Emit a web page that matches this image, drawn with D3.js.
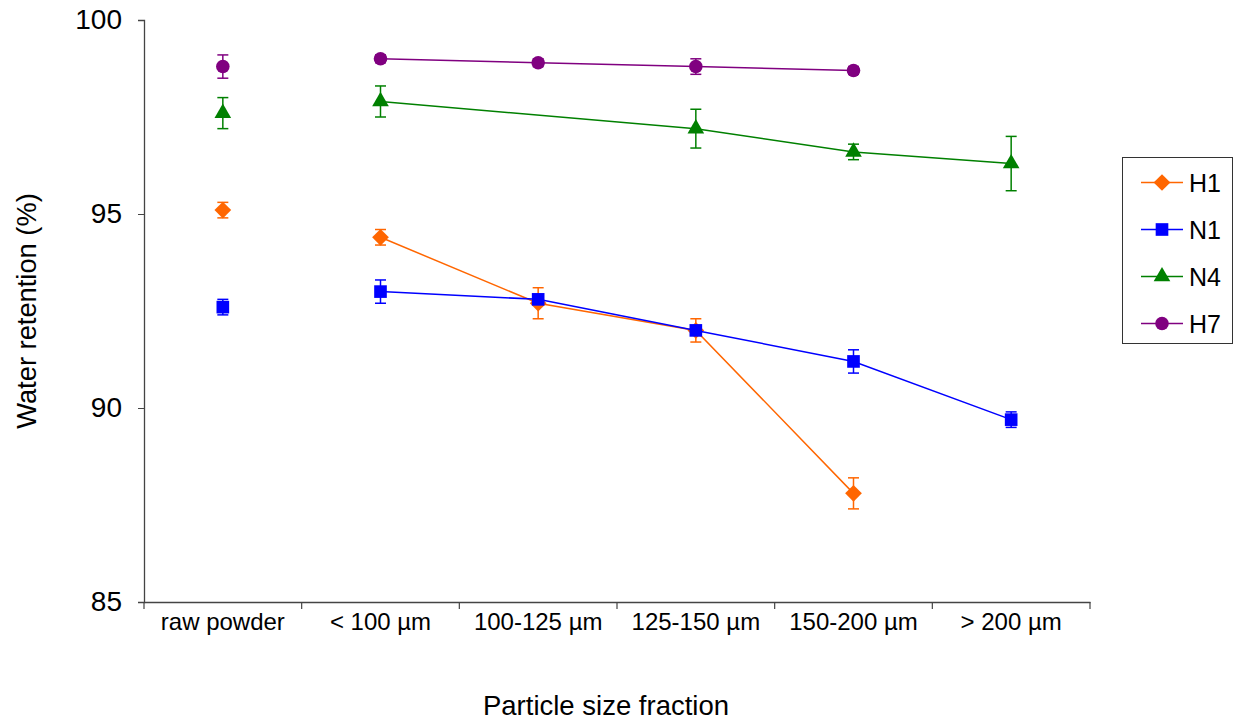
<!DOCTYPE html>
<html><head><meta charset="utf-8">
<script src="https://cdn.jsdelivr.net/npm/d3@7"></script>
<style>body{margin:0;background:#fff}svg{display:block;font-family:"Liberation Sans",Arial,sans-serif}</style>
</head><body><svg id="c" width="1234" height="720"></svg>
<script>
const categories = ["raw powder", "< 100 µm", "100-125 µm", "125-150 µm", "150-200 µm", "> 200 µm"];
const seriesNames = ["H1", "N1", "N4", "H7"];
const H1 = [95.1, 94.4, 92.7, 92.0, 87.8, null];
const H1err = [0.2, 0.2, 0.4, 0.3, 0.4, null];
const N1 = [92.6, 93.0, 92.8, 92.0, 91.2, 89.7];
const N1err = [0.2, 0.3, 0.1, 0.1, 0.3, 0.2];
const N4 = [97.6, 97.9, null, 97.2, 96.6, 96.3];
const N4err = [0.4, 0.4, null, 0.5, 0.2, 0.7];
const H7 = [98.8, 99.0, 98.9, 98.8, 98.7, null];
const H7err = [0.3, 0.1, 0.1, 0.2, 0.1, null];
const yTicks = [85, 90, 95, 100];

const squareDiamond = {draw(ctx, size){ const r = Math.sqrt(size/2);
  ctx.moveTo(0,-r); ctx.lineTo(r,0); ctx.lineTo(0,r); ctx.lineTo(-r,0); ctx.closePath(); }};
const colors = {H1:"#FF6600", N1:"#0000FF", N4:"#008000", H7:"#800080"};
const symbols = {H1:squareDiamond, N1:d3.symbolSquare, N4:d3.symbolTriangle, H7:d3.symbolCircle};
const sizes = {H1:140, N1:160, N4:120, H7:145};
const series = [
  {name:"H1", vals:H1, errs:H1err},
  {name:"N1", vals:N1, errs:N1err},
  {name:"N4", vals:N4, errs:N4err},
  {name:"H7", vals:H7, errs:H7err}
];

const svg = d3.select("#c");
const L = 144, R = 1090, T = 20, B = 602;
const x = d3.scaleBand().domain(categories).range([L, R]);
const y = d3.scaleLinear().domain([85, 100]).range([B, T]);
const cx = c => x(c) + x.bandwidth()/2;

// y axis
const ya = svg.append("g").attr("transform", `translate(${L},0)`)
  .call(d3.axisLeft(y).tickValues(yTicks).tickSize(6).tickPadding(16).tickFormat(d3.format("d")));
ya.select(".domain").attr("stroke", "#444").attr("stroke-width", 1.3);
ya.selectAll(".tick line").attr("stroke", "#444");
ya.selectAll("text").attr("font-size", 28).attr("fill", "#000").attr("font-family", "Liberation Sans, Arial");

// x axis
const xa = svg.append("g").attr("transform", `translate(0,${B})`)
  .call(d3.axisBottom(x).tickSize(0));
xa.select(".domain").attr("stroke", "#444").attr("stroke-width", 1.3);
xa.selectAll("text").attr("font-size", 24).attr("fill", "#000").attr("y", 28).attr("dy", 0)
  .attr("font-family", "Liberation Sans, Arial");
// category boundary ticks
const bounds = categories.map(c => x(c)).concat([x(categories[categories.length-1]) + x.bandwidth()]);
svg.append("g").selectAll("line").data(bounds).join("line")
  .attr("x1", d => d).attr("x2", d => d).attr("y1", B).attr("y2", B + 7)
  .attr("stroke", "#444").attr("stroke-width", 1.2);

// axis titles
svg.append("text").attr("x", 606).attr("y", 715).attr("text-anchor", "middle")
  .attr("font-size", 27.5).text("Particle size fraction");
svg.append("text").attr("transform", `translate(36,311) rotate(-90)`)
  .attr("text-anchor", "middle").attr("font-size", 27.3).text("Water retention (%)");

// series
series.forEach(s => {
  const col = colors[s.name];
  const g = svg.append("g");
  const pts = s.vals.map((v, i) => ({c: categories[i], v, e: s.errs[i], i})).filter(d => d.v != null);
  const linePts = pts.filter(d => d.i > 0);
  g.append("path").datum(linePts)
    .attr("d", d3.line().x(d => cx(d.c)).y(d => y(d.v)))
    .attr("fill", "none").attr("stroke", col).attr("stroke-width", 1.5);
  const eb = g.selectAll("g.eb").data(pts.filter(d => d.e)).join("g");
  eb.append("line").attr("x1", d => cx(d.c)).attr("x2", d => cx(d.c))
    .attr("y1", d => y(d.v + d.e)).attr("y2", d => y(d.v - d.e));
  eb.append("line").attr("x1", d => cx(d.c) - 5.5).attr("x2", d => cx(d.c) + 5.5)
    .attr("y1", d => y(d.v + d.e)).attr("y2", d => y(d.v + d.e));
  eb.append("line").attr("x1", d => cx(d.c) - 5.5).attr("x2", d => cx(d.c) + 5.5)
    .attr("y1", d => y(d.v - d.e)).attr("y2", d => y(d.v - d.e));
  eb.selectAll("line").attr("stroke", col).attr("stroke-width", 1.5);
  g.selectAll("path.m").data(pts).join("path").attr("class", "m")
    .attr("transform", d => `translate(${cx(d.c)},${y(d.v)})`)
    .attr("d", d3.symbol().type(symbols[s.name]).size(sizes[s.name]))
    .attr("fill", col);
});

// legend
const lg = svg.append("g");
lg.append("rect").attr("x", 1122.5).attr("y", 157.5).attr("width", 110).attr("height", 186)
  .attr("fill", "#fff").attr("stroke", "#333").attr("stroke-width", 1);
seriesNames.forEach((n, i) => {
  const yy = 182.5 + i * 47;
  lg.append("line").attr("x1", 1141).attr("x2", 1183).attr("y1", yy).attr("y2", yy)
    .attr("stroke", colors[n]).attr("stroke-width", 1.5);
  lg.append("path").attr("transform", `translate(1162,${yy})`)
    .attr("d", d3.symbol().type(symbols[n]).size(sizes[n])).attr("fill", colors[n]);
  lg.append("text").attr("x", 1189).attr("y", yy + 9).attr("font-size", 25).text(n);
});
</script></body></html>
